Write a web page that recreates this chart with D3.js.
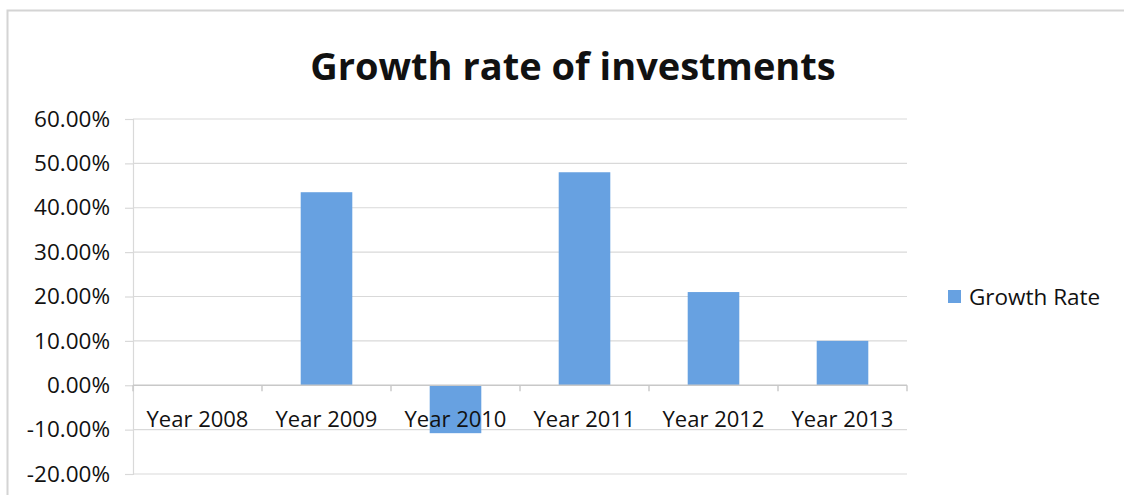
<!DOCTYPE html>
<html>
<head>
<meta charset="utf-8">
<script src="https://cdn.jsdelivr.net/npm/d3@7"></script>
<style>
  html, body { margin: 0; padding: 0; background: #ffffff; }
  svg { display: block; }
  text { font-family: "Open Sans", "Noto Sans", sans-serif; fill: #111; }
</style>
</head>
<body>
<svg id="chart" width="1124" height="495"></svg>
<script>
// Growth rate per year (fraction)
const categories = ["Year 2008", "Year 2009", "Year 2010", "Year 2011", "Year 2012", "Year 2013"];
const growthRate = [0, 0.435, -0.108, 0.48, 0.21, 0.10];
const yTicks = [-0.2, -0.1, 0, 0.1, 0.2, 0.3, 0.4, 0.5, 0.6];
const seriesName = "Growth Rate";
const chartTitle = "Growth rate of investments";

const W = 1124, H = 495;
const margin = { top: 119, right: 217, bottom: 21, left: 133 };
const svg = d3.select("#chart");

// outer chart frame
svg.append("rect")
  .attr("x", 7.5).attr("y", 10.5)
  .attr("width", W + 20).attr("height", H + 20)
  .attr("fill", "#fff").attr("stroke", "#d4d4d4").attr("stroke-width", 2);

const x = d3.scaleBand()
  .domain(categories)
  .range([margin.left, W - margin.right])
  .paddingInner(0.6).paddingOuter(0.3);

const y = d3.scaleLinear()
  .domain([-0.2, 0.6])
  .range([H - margin.bottom, margin.top]);

// percent labels with a plain hyphen for negatives
const pct = d3.format(".2%");
const fmt = d => pct(d).replace("\u2212", "-");

// horizontal gridlines + value axis
const yAxis = svg.append("g")
  .attr("transform", `translate(${margin.left},0)`)
  .call(d3.axisLeft(y).tickValues(yTicks).tickFormat(fmt)
        .tickSize(8).tickPadding(15));
yAxis.select(".domain").attr("stroke", "#d9d9d9").attr("stroke-width", 1.2);
yAxis.selectAll(".tick line").attr("stroke", "#d9d9d9").attr("stroke-width", 1.2);
yAxis.selectAll(".tick text")
  .style("font-family", "'Open Sans', sans-serif")
  .style("font-size", "22.5px").attr("fill", "#111");

svg.append("g").selectAll("line")
  .data(yTicks.filter(d => d !== 0))
  .join("line")
  .attr("x1", margin.left).attr("x2", W - margin.right)
  .attr("y1", d => y(d)).attr("y2", d => y(d))
  .attr("stroke", "#d9d9d9").attr("stroke-width", 1.2);

// bars
svg.append("g").selectAll("rect")
  .data(categories.map((c, i) => ({ c, v: growthRate[i] })))
  .join("rect")
  .attr("x", d => x(d.c))
  .attr("width", x.bandwidth())
  .attr("y", d => y(Math.max(0, d.v)))
  .attr("height", d => Math.abs(y(d.v) - y(0)))
  .attr("fill", "#67a1e1");

// category axis along zero
const step = x.step();
const boundaries = d3.range(categories.length + 1).map(i => margin.left + i * step);
const xAxis = svg.append("g");
xAxis.append("line")
  .attr("x1", margin.left).attr("x2", W - margin.right)
  .attr("y1", y(0)).attr("y2", y(0))
  .attr("stroke", "#c8c8c8").attr("stroke-width", 1.4);
xAxis.selectAll("line.tk")
  .data(boundaries)
  .join("line").attr("class", "tk")
  .attr("x1", d => d).attr("x2", d => d)
  .attr("y1", y(0)).attr("y2", y(0) + 6)
  .attr("stroke", "#c8c8c8").attr("stroke-width", 1.4);
xAxis.selectAll("text")
  .data(categories)
  .join("text")
  .attr("x", d => x(d) + x.bandwidth() / 2)
  .attr("y", y(0) + 42)
  .attr("text-anchor", "middle")
  .style("font-size", "22px")
  .attr("fill", "#111")
  .text(d => d);

// title
svg.append("text")
  .attr("x", (W) / 2 + 11)
  .attr("y", 80)
  .attr("text-anchor", "middle")
  .style("font-size", "38px")
  .style("font-weight", "bold")
  .text(chartTitle);

// legend
const legend = svg.append("g");
legend.append("rect")
  .attr("x", 948).attr("y", 290).attr("width", 13).attr("height", 13)
  .attr("fill", "#67a1e1");
legend.append("text")
  .attr("x", 969).attr("y", 305)
  .style("font-size", "22.5px")
  .text(seriesName);
</script>
</body>
</html>
